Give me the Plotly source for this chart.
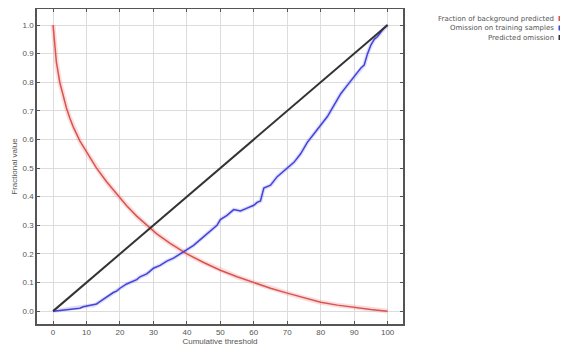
import plotly.graph_objects as go

# Data
threshold_bg = [0, 0.5, 1, 2, 3, 4, 5, 6, 8, 10, 13, 16, 19, 22, 25, 28, 31, 35, 40, 45, 50,
                55, 60, 65, 70, 75, 80, 85, 90, 95, 100]
fraction_bg = [1.0, 0.92, 0.87, 0.80, 0.75, 0.71, 0.675, 0.645, 0.595, 0.555, 0.50, 0.452,
               0.408, 0.368, 0.332, 0.30, 0.27, 0.237, 0.20, 0.17, 0.143, 0.12, 0.10, 0.08,
               0.063, 0.046, 0.031, 0.021, 0.013, 0.006, 0.0]

threshold_om = [0, 2, 5, 8, 9, 11, 12, 13, 14, 16, 18, 19, 20, 22, 24, 25, 26, 28, 29, 30,
                32, 34, 36, 38, 40, 42, 44, 45, 47, 49, 50, 52, 54, 56, 58, 60, 61, 62, 63,
                65, 67, 68, 70, 72, 74, 75, 76, 78, 80, 82, 84, 86, 88, 90, 92, 93, 94, 95,
                96, 97, 98, 99, 100]
omission_train = [0, 0.003, 0.006, 0.01, 0.015, 0.02, 0.02, 0.025, 0.033, 0.05, 0.065, 0.07,
                  0.08, 0.095, 0.105, 0.11, 0.12, 0.13, 0.14, 0.15, 0.16, 0.175, 0.185, 0.2,
                  0.215, 0.23, 0.25, 0.26, 0.28, 0.30, 0.32, 0.335, 0.355, 0.35, 0.36, 0.37,
                  0.38, 0.385, 0.43, 0.44, 0.47, 0.48, 0.5, 0.52, 0.55, 0.57, 0.59, 0.62, 0.65,
                  0.68, 0.72, 0.76, 0.79, 0.82, 0.85, 0.86, 0.9, 0.93, 0.95, 0.96, 0.975, 0.99,
                  1.0]

threshold_pred = [0, 100]
predicted_omission = [0.0, 1.0]

x_ticks = [0, 10, 20, 30, 40, 50, 60, 70, 80, 90, 100]
y_ticks = [0.0, 0.1, 0.2, 0.3, 0.4, 0.5, 0.6, 0.7, 0.8, 0.9, 1.0]

legend_labels = ["Fraction of background predicted", "Omission on training samples",
                 "Predicted omission"]
colors = ["#d9534f", "#4343d8", "#333333"]

FONT = "Liberation Sans, Arial"
TXT = "#555555"

fig = go.Figure()
# soft glow under the lines
fig.add_trace(go.Scatter(x=threshold_bg, y=fraction_bg, mode="lines",
                         line=dict(color="rgba(240,120,120,0.25)", width=5),
                         hoverinfo="skip", showlegend=False))
fig.add_trace(go.Scatter(x=threshold_om, y=omission_train, mode="lines",
                         line=dict(color="rgba(120,120,240,0.25)", width=4),
                         hoverinfo="skip", showlegend=False))
fig.add_trace(go.Scatter(x=threshold_bg, y=fraction_bg, mode="lines", name=legend_labels[0],
                         line=dict(color=colors[0], width=1.5), showlegend=False))
fig.add_trace(go.Scatter(x=threshold_om, y=omission_train, mode="lines", name=legend_labels[1],
                         line=dict(color=colors[1], width=1.5), showlegend=False))
fig.add_trace(go.Scatter(x=threshold_pred, y=predicted_omission, mode="lines",
                         name=legend_labels[2],
                         line=dict(color=colors[2], width=2), showlegend=False))

axis_common = dict(showgrid=True, gridcolor="#dcdcdc", gridwidth=1, zeroline=False,
                   showline=True, linecolor="#555555", linewidth=1.5, mirror="ticks",
                   ticks="inside", ticklen=3, tickcolor="#555555", automargin=False,
                   tickfont=dict(family=FONT, size=8, color=TXT))

fig.update_xaxes(range=[-4.8, 104.6], tickvals=x_ticks,
                 ticktext=[str(v) for v in x_ticks],
                 title=dict(text="Cumulative threshold", standoff=2,
                            font=dict(family=FONT, size=8, color=TXT)),
                 **axis_common)
fig.update_yaxes(range=[-0.045, 1.056], tickvals=y_ticks,
                 ticktext=[f"{v:.1f}" for v in y_ticks],
                 title=dict(text="Fractional value", standoff=4,
                            font=dict(family=FONT, size=8, color=TXT)),
                 **axis_common)

# page body has an 8px default margin, so all pixel positions are shifted by -8
OFF = 8
plot_l, plot_r, plot_t, plot_b = 37 - OFF, 403 - OFF, 9 - OFF, 324 - OFF
W, H = 568, 358
def px_to_paper_x(px):
    return (px - OFF - plot_l) / (plot_r - plot_l)
def px_to_paper_y(py):
    return (plot_b - (py - OFF)) / (plot_b - plot_t)

legend_y = [18.5, 28, 37.5]
for lab, col, yy in zip(legend_labels, colors, legend_y):
    fig.add_annotation(x=px_to_paper_x(556), y=px_to_paper_y(yy), xref="paper", yref="paper",
                       text=lab, showarrow=False, xanchor="right", yanchor="middle",
                       font=dict(family="DejaVu Sans", size=7, color=TXT))
    fig.add_shape(type="rect", xref="paper", yref="paper",
                  x0=px_to_paper_x(558.5), x1=px_to_paper_x(563.5),
                  y0=px_to_paper_y(yy + 2.5), y1=px_to_paper_y(yy - 2.5),
                  fillcolor=col, line=dict(width=0), layer="above")

fig.update_layout(width=W, height=H,
                  margin=dict(l=plot_l, r=W - plot_r, t=plot_t, b=H - plot_b, autoexpand=False),
                  plot_bgcolor="white", paper_bgcolor="white", showlegend=False)

fig.write_html("out.html")
